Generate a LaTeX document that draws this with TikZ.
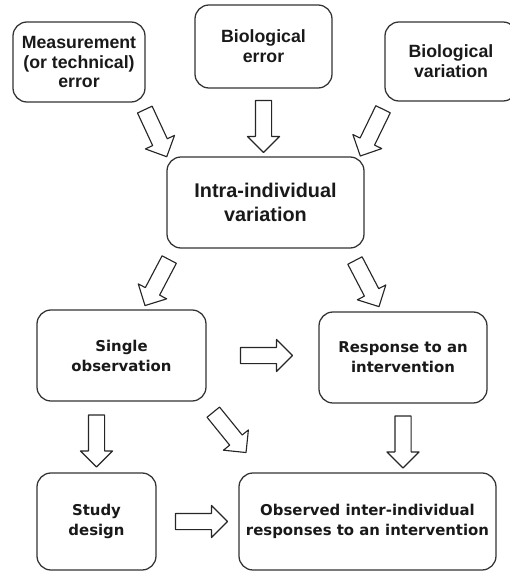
\documentclass[tikz,border=0pt]{standalone}
\usepackage{fontspec}
\usetikzlibrary{shapes.arrows}
\newfontfamily\topfont{Liberation Sans}
\newfontfamily\lowfont{DejaVu Sans}
\def\px{0.025cm}
\tikzset{
  box/.style={draw=black!80, line width=0.9pt, rounded corners=14*\px, align=center, inner sep=0pt, text=black!90},
  topbox/.style={box, font=\topfont\bfseries\fontsize{12.6}{14.2}\selectfont},
  lowbox/.style={box, font=\lowfont\bfseries\fontsize{10.6}{14.2}\selectfont},
  blk/.style={single arrow, draw=black!85, fill=white, line width=0.8pt, minimum height=52*\px, single arrow head extend=8*\px, inner xsep=0pt, inner ysep=7.5*\px, sloped, allow upside down}
}
\begin{document}
\begin{tikzpicture}[x=\px, y=-\px, line join=round]
	\useasboundingbox (0,0) rectangle (509,571);
	% sources of variation
	\node[topbox, minimum width=132*\px, minimum height=80*\px] (meas) at (79,62) {Measurement\\(or technical)\\error};
	\node[topbox, minimum width=137*\px, minimum height=83*\px] (bioerr) at (263.5,46.5) {Biological\\error};
	\node[topbox, minimum width=132*\px, minimum height=79*\px] (biovar) at (451,61.5) {Biological\\variation};
	\node[box, font=\topfont\bfseries\fontsize{14.1}{17}\selectfont, minimum width=197*\px, minimum height=91*\px] (intra) at (265.5,202.5) {Intra-individual\\variation};
	% consequences
	\node[lowbox, minimum width=169*\px, minimum height=91*\px] (single) at (121.5,355.5) {Single\\observation};
	\node[lowbox, minimum width=168*\px, minimum height=91*\px] (resp) at (403,357.5) {Response to an\\intervention};
	\node[lowbox, minimum width=119*\px, minimum height=97*\px] (study) at (96.5,521.5) {Study\\design};
	\node[lowbox, minimum width=257*\px, minimum height=97*\px] (obs) at (367.5,521.5) {Observed inter-individual\\responses to an intervention};
	% block arrows
	\path (meas.-33) -- node[blk] (a1) {} (intra.155);
	\path (bioerr.south) -- node[blk] (a2) {} (bioerr.south |- intra.north);
	\path (biovar.212) -- node[blk] (a3) {} (intra.26);
	\path (intra.207) -- node[blk] (a4) {} (single.65);
	\path (intra.-29) -- node[blk] (a5) {} (resp.115);
	\path (single.east) -- node[blk] (a6) {} (single.east -| resp.west);
	\path (single.-29) -- node[blk, pos=.39] (a7) {} (obs.155);
	\path (study.north |- single.south) -- node[blk] (a8) {} (study.north);
	\path (resp.south) -- node[blk] (a9) {} (resp.south |- obs.north);
	\path (study.east) -- node[blk] (a10) {} (obs.west);
\end{tikzpicture}
\end{document}
